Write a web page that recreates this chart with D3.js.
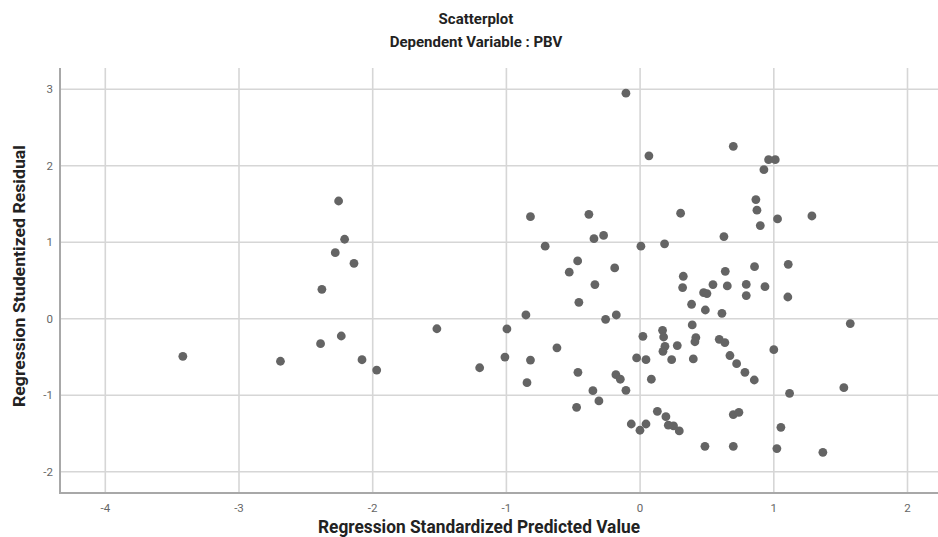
<!DOCTYPE html>
<html>
<head>
<meta charset="utf-8">
<script src="https://cdn.jsdelivr.net/npm/d3@7"></script>
<style>
  html, body { margin: 0; padding: 0; background: #fff; }
  svg { display: block; }
</style>
</head>
<body>
<svg id="chart" width="938" height="537"></svg>
<script>
const titleLines = ["Scatterplot", "Dependent Variable : PBV"];
const xTitle = "Regression Standardized Predicted Value";
const yTitle = "Regression Studentized Residual";
const xTicks = [-4, -3, -2, -1, 0, 1, 2];
const yTicks = [-2, -1, 0, 1, 2, 3];

const predicted = [
  -2.255, -2.21, -2.28, -2.14, -2.38, -1.52, -2.235, -2.39, -3.42, -2.69, -2.08, -1.97, -1.20,
  -0.106, 0.066, -0.82, -0.383, 0.303, -0.345, -0.273, -0.71, 0.006, 0.183, -0.467, -0.53, -0.19, 0.323,
  -0.338, 0.318, -0.458, 0.385, -0.854, -0.258, -0.178, 0.39, -0.996, 0.021, 0.168, 0.176, 0.417, 0.41,
  0.186, 0.171, 0.278, -0.622, -1.011, -0.82, -0.026, 0.044, 0.236, 0.398, -0.465, -0.181, -0.148, 0.084,
  -0.846, -0.353, -0.106, -0.308, -0.475, 0.129, 0.193, 0.211, 0.25, 0.293, -0.066, -0.001, 0.044,
  0.697, 0.961, 1.011, 0.926, 0.866, 0.874, 0.899, 1.028, 1.285, 0.627, 1.108, 0.856, 0.637, 0.545,
  0.652, 0.794, 0.934, 0.475, 0.50, 0.794, 1.105,
  0.488, 0.612, 1.572, 0.592, 0.634, 1.0, 0.672, 0.722, 0.784, 0.854, 1.524, 1.118, 0.697, 0.739,
  1.053, 0.485, 0.697, 1.023, 1.367
];
const residual = [
  1.54, 1.04, 0.865, 0.725, 0.385, -0.13, -0.225, -0.325, -0.49, -0.555, -0.535, -0.67, -0.64,
  2.95, 2.13, 1.335, 1.366, 1.38, 1.048, 1.09, 0.95, 0.95, 0.98, 0.756, 0.61, 0.665, 0.556,
  0.447, 0.408, 0.216, 0.19, 0.05, -0.007, 0.05, -0.08, -0.133, -0.229, -0.15, -0.238, -0.246, -0.30,
  -0.36, -0.425, -0.35, -0.38, -0.50, -0.54, -0.512, -0.534, -0.534, -0.525, -0.70, -0.73, -0.79, -0.79,
  -0.835, -0.94, -0.935, -1.074, -1.157, -1.21, -1.28, -1.39, -1.40, -1.466, -1.375, -1.457, -1.375,
  2.255, 2.08, 2.08, 1.95, 1.558, 1.42, 1.218, 1.305, 1.344, 1.075, 0.712, 0.682, 0.62, 0.447,
  0.43, 0.45, 0.42, 0.342, 0.33, 0.303, 0.285,
  0.115, 0.072, -0.063, -0.268, -0.311, -0.403, -0.48, -0.586, -0.70, -0.80, -0.90, -0.974, -1.252, -1.222,
  -1.418, -1.667, -1.667, -1.697, -1.745
];

const svg = d3.select("#chart");
const plot = { left: 60, right: 938, top: 68, bottom: 493 };
const FONT = "Roboto, 'Liberation Sans', Arial, sans-serif";

const x = d3.scaleLinear().domain([-4, 2]).range([105.3, 907.5]);
const y = d3.scaleLinear().domain([-2, 3]).range([471.8, 89.3]);

// Gridlines
const grid = svg.append("g").attr("class", "grid");
grid.selectAll("line.v").data(xTicks).join("line")
  .attr("class", "v")
  .attr("x1", d => x(d)).attr("x2", d => x(d))
  .attr("y1", plot.top).attr("y2", plot.bottom)
  .attr("stroke", "#d6d6d6").attr("stroke-width", 1.6);
grid.selectAll("line.h").data(yTicks).join("line")
  .attr("class", "h")
  .attr("x1", plot.left).attr("x2", plot.right)
  .attr("y1", d => y(d)).attr("y2", d => y(d))
  .attr("stroke", "#d6d6d6").attr("stroke-width", 1.6);

// Axes lines
svg.append("line")
  .attr("x1", plot.left).attr("x2", plot.left)
  .attr("y1", plot.top).attr("y2", plot.bottom)
  .attr("stroke", "#a8a8a8").attr("stroke-width", 2);
svg.append("line")
  .attr("x1", plot.left - 1).attr("x2", plot.right)
  .attr("y1", plot.bottom).attr("y2", plot.bottom)
  .attr("stroke", "#a8a8a8").attr("stroke-width", 2);

// Tick labels
const fmt = d => (d < 0 ? "-" + Math.abs(d) : String(d));
svg.append("g").selectAll("text").data(xTicks).join("text")
  .attr("x", d => x(d)).attr("y", 512)
  .attr("text-anchor", "middle")
  .attr("font-family", FONT)
  .attr("font-size", 11.5).attr("fill", "#666")
  .text(fmt);
svg.append("g").selectAll("text").data(yTicks).join("text")
  .attr("x", 53).attr("y", d => y(d) + 4)
  .attr("text-anchor", "end")
  .attr("font-family", FONT)
  .attr("font-size", 11.5).attr("fill", "#666")
  .text(fmt);

// Points
svg.append("g").selectAll("circle").data(predicted.map((p, i) => [p, residual[i]])).join("circle")
  .attr("cx", d => x(d[0])).attr("cy", d => y(d[1]))
  .attr("r", 4.4)
  .attr("fill", "#646464");

// Titles
svg.append("g").selectAll("text").data(titleLines).join("text")
  .attr("x", 476).attr("y", (d, i) => 24 + i * 23)
  .attr("text-anchor", "middle")
  .attr("font-family", FONT)
  .attr("font-weight", 700).attr("font-size", 15).attr("fill", "#222")
  .text(d => d);

svg.append("text")
  .attr("x", 479).attr("y", 533)
  .attr("text-anchor", "middle")
  .attr("font-family", FONT)
  .attr("font-weight", 700).attr("font-size", 17.5).attr("fill", "#222")
  .attr("textLength", 322).attr("lengthAdjust", "spacingAndGlyphs")
  .text(xTitle);

svg.append("text")
  .attr("transform", "translate(25,276) rotate(-90)")
  .attr("text-anchor", "middle")
  .attr("font-family", FONT)
  .attr("font-weight", 700).attr("font-size", 17).attr("fill", "#222")
  .attr("textLength", 262).attr("lengthAdjust", "spacingAndGlyphs")
  .text(yTitle);
</script>
</body>
</html>
